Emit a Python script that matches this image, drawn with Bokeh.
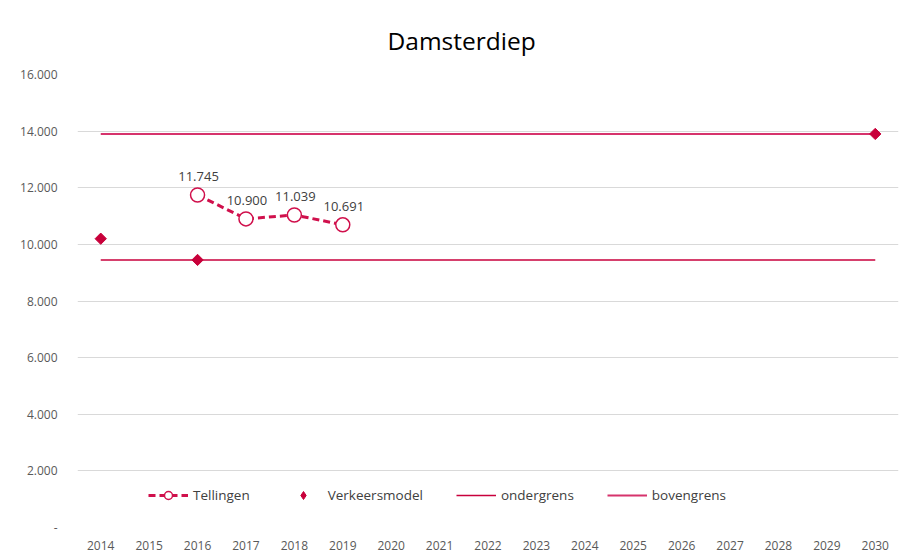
from bokeh.plotting import figure
from bokeh.models import (Range1d, FixedTicker, CustomJSTickFormatter, Legend, LegendItem,
                          ColumnDataSource, LabelSet)
from bokeh.core.properties import value
from bokeh.embed import file_html
from bokeh.resources import INLINE
import math

# ---- data ----
years = list(range(2014, 2031))
tellingen_years = [2016, 2017, 2018, 2019]
tellingen_values = [11745, 10900, 11039, 10691]
model_years = [2014, 2016, 2030]
model_values = [10200, 9450, 13900]
grens_years = [2014, 2030]
ondergrens_values = [9450, 9450]
bovengrens_values = [13900, 13900]
y_ticks = [0, 2000, 4000, 6000, 8000, 10000, 12000, 14000, 16000]

def fmt(v):
    return f"{v:,}".replace(",", ".")

FONT = "Open Sans"
TXT = "#595959"

p = figure(width=900, height=554, output_backend="svg", toolbar_location=None,
           x_range=Range1d(2013.52, 2030.48), y_range=Range1d(0, 16000),
           min_border_left=77, min_border_right=2, min_border_top=74, min_border_bottom=27)
p.outline_line_color = None
p.background_fill_color = "white"
p.border_fill_color = "white"

p.title.text = "Damsterdiep"
p.title.text_font = FONT
p.title.text_font_size = "24.5px"
p.title.text_font_style = "normal"
p.title.text_color = "#000000"
p.title.align = "left"
p.title.offset = 310
p.title.standoff = 35

# axes
p.xaxis.ticker = FixedTicker(ticks=years)
p.xaxis.axis_line_color = None
p.xaxis.major_tick_line_color = None
p.xaxis.minor_tick_line_color = None
p.xaxis.major_label_text_font = FONT
p.xaxis.major_label_text_font_size = "12px"
p.xaxis.major_label_text_color = TXT
p.xaxis.major_label_standoff = 7

p.yaxis.ticker = FixedTicker(ticks=y_ticks)
p.yaxis.formatter = CustomJSTickFormatter(code="""
    if (tick == 0) { return '-'; }
    return tick.toString().replace(/\\B(?=(\\d{3})+(?!\\d))/g, '.');
""")
p.yaxis.axis_line_color = None
p.yaxis.major_tick_line_color = None
p.yaxis.minor_tick_line_color = None
p.yaxis.major_label_text_font = FONT
p.yaxis.major_label_text_font_size = "12px"
p.yaxis.major_label_text_color = TXT
p.yaxis.major_label_standoff = 14

p.xgrid.grid_line_color = None
p.ygrid.grid_line_color = "#d9d9d9"
p.ygrid.grid_line_width = 1

# series
r_bov = p.line(grens_years, bovengrens_values, line_color="#D6336C", line_width=2)
r_ond = p.line(grens_years, ondergrens_values, line_color="#C8003C", line_width=1.5)

src = ColumnDataSource(dict(x=tellingen_years, y=tellingen_values,
                            lbl=[fmt(v) for v in tellingen_values]))
r_tl = p.line("x", "y", source=src, line_color="#D0104C", line_width=3, line_dash="7 4")
r_tm = p.scatter("x", "y", source=src, marker="circle", size=14, fill_color="white",
                 line_color="#D0104C", line_width=1.5)
r_mod = p.scatter(model_years, model_values, marker="square", angle=math.pi / 4, size=8,
                  fill_color="#C8003A", line_color="#C8003A")
# legend-only glyph (a single missing point) for the diamond key
r_mod_key = p.scatter(x=[float("nan")], y=[float("nan")], marker="diamond", size=12,
                      fill_color="#C8003A", line_color="#C8003A")

labels = LabelSet(x="x", y="y", text="lbl", source=src, x_offset=1, y_offset=14,
                  text_align="center", text_baseline="bottom", text_font=value(FONT),
                  text_font_size=value("13px"), text_color="#404040")
p.add_layout(labels)

legend = Legend(items=[
    LegendItem(label="Tellingen", renderers=[r_tl, r_tm]),
    LegendItem(label="Verkeersmodel", renderers=[r_mod_key]),
    LegendItem(label="ondergrens", renderers=[r_ond]),
    LegendItem(label="bovengrens", renderers=[r_bov]),
], orientation="horizontal", location=(71, 22), background_fill_alpha=0,
   border_line_color=None, padding=0, margin=0, spacing=33, glyph_width=40,
   glyph_height=20, label_standoff=5, label_text_font=FONT, label_text_font_size="13.5px",
   label_text_color="#404040")
p.add_layout(legend)

open("out.html", "w").write(file_html(p, INLINE))
